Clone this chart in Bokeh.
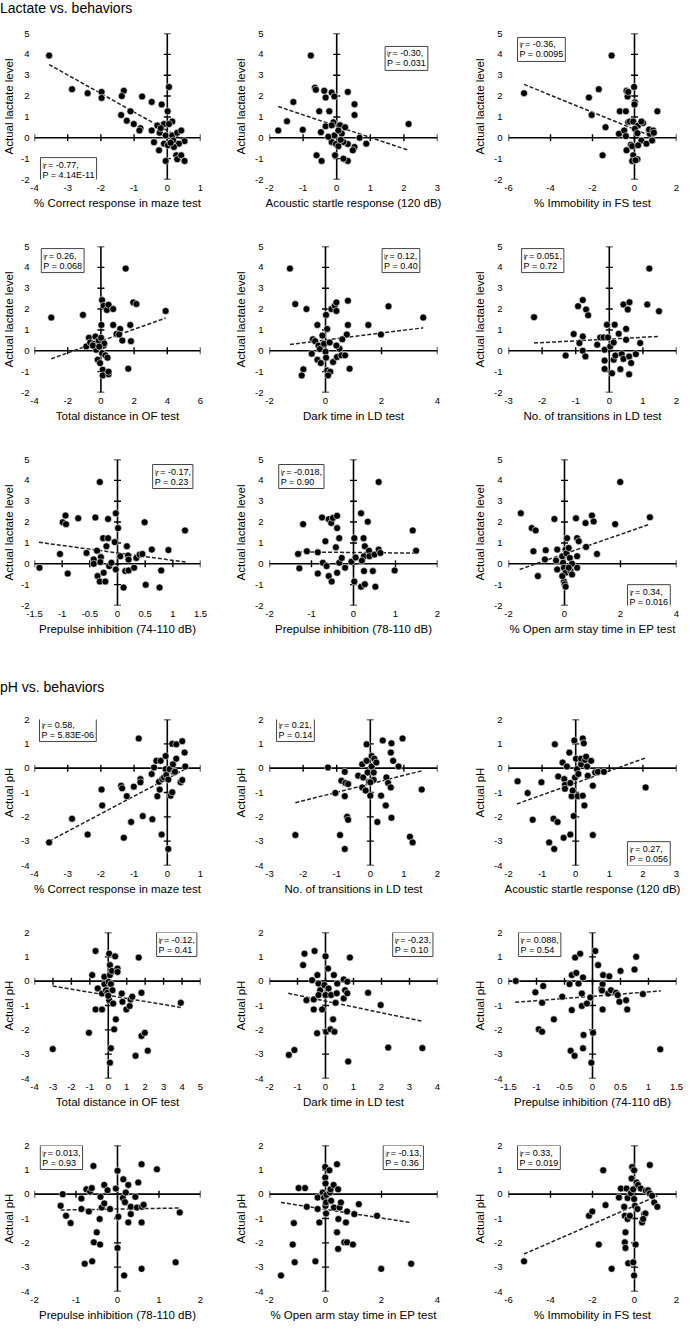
import math
from bokeh.plotting import figure
from bokeh.layouts import column, row
from bokeh.models import Range1d, FixedTicker, CustomJSTickFormatter, Label, Div
from bokeh.embed import file_html
from bokeh.resources import INLINE

FONT = "Liberation Sans"

# ---------------- data (x, y) pairs ----------------
lac_maze = [(-3.56, 3.94), (-2.87, 2.33), (-2.40, 2.14), (-1.98, 2.20), (-1.98, 1.91), (-1.31, 2.25),
            (-1.37, 2.00), (-0.76, 1.98), (-0.47, 1.72), (-0.17, 1.60), (0.05, 2.44), (0.01, 1.27),
            (-1.11, 1.27), (-1.39, 1.09), (-1.22, 0.82), (-1.01, 0.66), (-0.81, 0.46), (-0.84, 0.35),
            (-0.47, 0.35), (-0.30, 0.59), (-0.23, 0.24), (-0.10, 0.66), (0.15, 0.78), (-0.05, 0.11),
            (-0.40, -0.21), (-0.25, -0.60), (-0.10, -0.28), (0.02, -0.36), (0.15, 0.11), (0.18, -0.13),
            (0.30, 0.24), (0.42, 0.35), (0.52, -0.16), (0.35, -0.28), (0.20, -0.44), (0.27, -0.84),
            (0.30, -1.03), (0.42, -0.84), (0.52, -1.11), (-0.05, -1.11), (0.05, 0.66), (-0.20, 0.46),
            (0.10, -0.24)]
lac_asr = [(-0.77, 3.94), (-1.74, 0.35), (-1.48, 0.79), (-1.29, 1.72), (-1.01, 0.38), (-0.65, 2.40),
           (-0.62, 2.30), (-0.37, 2.25), (-0.15, 2.17), (-0.33, 1.93), (-0.07, 1.98), (-0.52, 1.27),
           (-0.22, 1.27), (-0.47, 0.27), (-0.33, 0.55), (-0.10, 0.74), (-0.15, 0.60), (-0.60, -0.84),
           (-0.45, -1.11), (-0.05, -0.84), (-0.07, 0.11), (-0.15, -0.20), (-0.02, -0.30), (0.33, 2.20),
           (0.53, 1.61), (0.53, 1.09), (0.68, 0.00), (0.88, -0.28), (2.14, 0.66), (0.53, -0.44),
           (0.48, -0.60), (0.33, -1.11), (0.33, -0.30), (0.10, 0.60), (0.20, -0.20), (0.25, 0.50),
           (0.05, -0.40), (0.15, 0.20), (0.20, -1.00), (0.05, 0.35), (-0.25, 0.05), (0.12, -0.10)]
lac_fs = [(-5.26, 2.14), (-2.17, 1.93), (-2.04, 1.09), (-1.70, 2.33), (-1.09, 3.94), (-1.38, 0.51),
          (-1.52, -0.84), (-0.74, 0.19), (-0.70, 1.27), (-0.49, 0.35), (-0.41, 1.27), (-0.38, 2.25),
          (-0.33, 1.98), (-0.30, 2.20), (-0.41, 0.08), (-0.30, 0.75), (-0.22, 0.78), (-0.02, 2.44),
          (0.02, 1.70), (0.00, 1.60), (-0.06, 0.78), (0.17, 0.59), (0.02, 0.43), (0.14, 0.22),
          (-0.17, -0.33), (-0.38, -0.60), (-0.11, -0.40), (-0.06, -0.84), (-0.11, -1.11), (0.14, -1.03),
          (0.05, -1.08), (0.33, -0.13), (0.57, -0.28), (0.41, 0.71), (0.33, 0.78), (0.68, 0.35),
          (0.73, 0.19), (0.70, 0.40), (0.89, 0.35), (0.92, 0.24), (0.84, -0.13), (1.09, 1.27),
          (0.17, -0.36)]
lac_of = [(-2.99, 1.59), (-1.08, 1.72), (-0.88, 0.21), (-0.72, 0.62), (-0.64, 0.40), (-0.33, 0.68),
          (-0.44, 0.33), (-0.25, 0.12), (-0.13, 0.49), (0.03, 1.24), (0.07, 2.43), (0.17, 2.16),
          (0.36, 1.96), (0.46, 2.21), (0.74, 2.00), (0.74, 1.24), (1.49, 3.94), (1.95, 2.32),
          (2.14, 2.24), (3.90, 1.91), (1.16, 1.05), (0.94, 0.81), (1.10, 0.78), (1.29, 0.49),
          (1.77, 1.24), (1.81, 0.46), (1.65, -0.86), (0.01, 0.62), (0.17, 0.25), (0.07, -0.11),
          (-0.19, -0.43), (-0.05, -0.59), (0.27, -0.22), (0.40, -0.33), (0.11, -0.91), (0.11, -1.18),
          (0.46, -1.13), (0.46, -1.00), (-0.29, 0.05), (-0.49, 0.25), (0.20, 0.35), (-0.10, 0.20)]
lac_dark = [(-1.27, 3.94), (-1.08, 2.24), (-0.68, 2.00), (-0.29, 1.24), (0.02, 1.72), (0.06, 1.05),
            (-0.79, -0.89), (-0.85, -1.18), (-0.49, -0.14), (-0.45, 0.55), (-0.37, 0.46), (-0.25, 0.25),
            (-0.29, -0.43), (-0.17, -0.59), (-0.20, 0.08), (-0.11, 0.73), (-0.05, 0.33), (0.00, -0.05),
            (0.02, -0.33), (0.06, -0.94), (0.17, -1.00), (0.09, -1.18), (0.27, -0.54), (0.21, 2.00),
            (0.33, 2.16), (0.39, 1.91), (0.39, 2.32), (0.50, 0.10), (0.39, 0.25), (0.41, -0.30),
            (0.57, -0.22), (0.76, 0.78), (0.80, 2.40), (0.80, 1.24), (1.53, 1.24), (1.98, 0.78),
            (2.25, 2.13), (3.49, 1.59), (0.86, -0.86), (0.70, -0.22), (0.15, 0.40), (0.60, 0.55)]
lac_trans = [(-2.24, 1.61), (-1.30, -0.23), (-1.06, 0.80), (-0.93, 2.14), (-0.79, 2.43), (-0.69, 1.98),
             (-0.63, 1.70), (-0.79, 0.69), (-0.89, 0.37), (-0.79, 0.00), (-0.71, -0.27), (-0.36, 0.29),
             (-0.27, 0.64), (-0.17, 0.64), (-0.14, 0.05), (-0.14, -0.47), (-0.14, -0.87), (-0.07, 1.25),
             (0.16, 1.25), (0.03, 0.21), (0.13, 0.40), (-0.04, 0.64), (0.08, -1.08), (0.13, -0.43),
             (0.18, -0.23), (0.28, 0.82), (0.37, -0.16), (0.42, -0.39), (0.33, -0.88), (0.42, 2.22),
             (0.55, 1.98), (0.60, 2.33), (0.50, 1.05), (0.50, 0.53), (0.59, -0.27), (0.65, -0.59),
             (0.59, -1.13), (0.79, -0.16), (0.92, 0.37), (1.13, 2.22), (1.19, 3.94), (1.48, 1.90)]
lac_ppi74 = [(-1.41, -0.19), (-1.04, 0.47), (-0.99, 1.99), (-0.94, 2.31), (-0.93, 1.90), (-0.90, -0.47),
             (-0.71, 2.18), (-0.56, 0.52), (-0.40, 2.22), (-0.43, 0.21), (-0.43, 0.00), (-0.37, 0.63),
             (-0.32, 3.92), (-0.36, -0.59), (-0.32, -0.85), (-0.30, 0.32), (-0.31, 0.08), (-0.26, 1.23),
             (-0.25, -0.43), (-0.22, -0.85), (-0.20, 0.84), (-0.17, 1.23), (-0.17, 2.15), (-0.15, -0.11),
             (-0.11, 0.05), (-0.05, 1.04), (-0.03, 2.42), (0.01, 1.71), (-0.03, -0.27), (0.05, 0.36),
             (0.11, -1.14), (0.14, -0.35), (0.17, 0.84), (0.19, 0.40), (0.20, -0.32), (0.20, 0.20),
             (0.30, -0.19), (0.34, 0.28), (0.40, 0.44), (0.45, 0.47), (0.49, 1.99), (0.51, -1.01),
             (0.62, 0.68), (0.79, -0.32), (0.76, -1.14), (0.92, 0.66), (1.22, 1.60)]
lac_ppi78 = [(-1.20, 1.90), (-1.32, 0.47), (-1.29, -0.22), (-1.11, 0.60), (-0.85, 0.55), (-0.75, 2.22),
             (-0.73, 0.05), (-0.85, -0.47), (-0.67, 1.08), (-0.64, -0.11), (-0.59, 2.14), (-0.53, 1.96),
             (-0.49, 2.20), (-0.39, 2.30), (-0.39, 1.71), (-0.34, 1.23), (-0.42, 0.79), (-0.59, -0.59),
             (-0.52, -0.85), (-0.39, -0.43), (-0.34, 0.05), (-0.28, 0.28), (-0.20, -0.19), (0.02, 1.23),
             (0.18, 2.42), (0.34, 2.02), (0.24, 1.23), (0.27, 0.84), (0.37, 0.63), (0.25, 0.36),
             (0.20, 0.15), (0.02, -0.85), (0.18, -1.10), (0.27, -0.98), (0.25, -0.35), (0.38, 0.36),
             (0.46, -0.35), (0.50, 0.44), (0.52, -1.10), (0.60, 0.68), (0.60, 3.92), (0.64, 0.52),
             (0.98, -0.32), (1.41, 1.60), (1.49, 0.63), (-0.05, 0.10), (0.05, 0.30)]
lac_ep = [(-1.56, 2.42), (-1.17, 1.71), (-1.03, 1.60), (-1.11, 0.60), (-0.95, -0.59), (-0.67, 0.65),
          (-0.70, 0.21), (-0.36, 2.15), (-0.26, 0.68), (-0.30, 0.16), (-0.26, -0.27), (-0.08, 0.36),
          (-0.05, 0.05), (-0.02, -0.19), (0.04, 0.68), (0.09, 1.23), (0.07, 0.50), (0.04, -0.43),
          (-0.02, -0.85), (0.01, -0.98), (0.04, -1.10), (0.15, 0.76), (0.19, 0.28), (0.27, 0.00),
          (0.21, -0.33), (0.27, -0.51), (0.45, -0.19), (0.45, 0.36), (0.41, 2.18), (0.45, 1.23),
          (0.51, 1.08), (0.75, 1.95), (0.77, 0.81), (0.98, 2.31), (1.04, 2.03), (1.16, 0.47),
          (1.81, 1.90), (1.99, 3.92), (3.05, 2.23), (-0.08, -0.59), (0.15, -0.19)]

ph_maze = [(-3.56, -3.05), (-2.87, -2.08), (-2.40, -2.73), (-1.98, -0.88), (-1.96, -1.53), (-1.39, -0.72),
           (-1.36, -0.83), (-1.31, -2.86), (-1.22, -1.15), (-1.09, -2.21), (-1.01, -0.76), (-0.86, 1.22),
           (-0.81, -0.45), (-0.81, -0.58), (-0.74, -1.97), (-0.47, -0.24), (-0.45, -2.10), (-0.40, 0.03),
           (-0.33, 0.30), (-0.30, -1.15), (-0.25, -0.56), (-0.23, -0.88), (-0.20, 0.30), (-0.17, -2.73),
           (-0.15, -0.45), (-0.10, -0.38), (-0.05, 0.50), (-0.05, -0.04), (-0.03, -0.28), (0.03, -3.32),
           (0.03, -0.47), (0.07, -0.04), (0.10, -1.13), (0.15, -0.99), (0.15, 1.00), (0.17, 0.16),
           (0.20, -0.18), (0.27, 0.98), (0.27, 0.39), (0.45, 1.11), (0.40, -0.58), (0.45, -0.49),
           (0.52, 0.64), (0.54, 0.07), (0.23, -0.15)]
ph_trans = [(-2.23, -2.75), (-1.26, 0.03), (-1.04, -1.02), (-0.86, -0.52), (-0.90, -2.75), (-0.76, -3.32),
            (-0.76, -0.15), (-0.74, -0.61), (-0.76, -1.15), (-0.69, -2.00), (-0.66, -2.12), (-0.66, -0.65),
            (-0.36, -0.31), (-0.24, -0.79), (-0.24, 0.16), (-0.21, -0.38), (-0.14, -0.92), (-0.11, 0.98),
            (-0.11, 0.30), (-0.08, -0.18), (-0.04, -0.56), (0.00, -1.13), (0.04, 0.50), (0.04, 0.07),
            (0.10, -0.48), (0.10, -0.18), (0.12, 0.39), (0.18, 0.23), (0.32, -1.13), (0.37, 1.14),
            (0.46, -1.53), (0.48, -0.38), (0.53, -0.61), (0.61, -0.79), (0.63, 1.02), (0.61, 0.64),
            (0.68, 0.30), (0.63, -2.04), (0.84, 0.07), (0.96, 1.22), (0.21, -2.21), (1.18, -2.82),
            (1.26, -3.05), (1.53, -0.88), (0.00, -0.58)]
ph_asr = [(-1.73, -0.54), (-1.43, -1.02), (-1.28, -2.12), (-1.02, -0.58), (-0.62, 0.98), (-0.66, -2.08),
          (-0.54, -2.21), (-0.52, -0.34), (-0.79, -3.05), (-0.64, -3.32), (-0.39, 0.23), (-0.36, -2.86),
          (-0.34, -0.45), (-0.32, -0.69), (-0.32, -0.85), (-0.26, 0.07), (-0.19, 0.64), (-0.16, -0.61),
          (-0.16, -2.73), (-0.12, -1.15), (-0.09, -0.92), (-0.06, -1.97), (-0.04, 1.14), (-0.02, -0.38),
          (0.01, 0.39), (0.04, -0.04), (0.06, -1.15), (0.08, -0.24), (0.16, 0.16), (0.16, 0.39),
          (0.21, 1.22), (0.21, -1.13), (0.24, 1.02), (0.26, -1.53), (0.28, 0.34), (0.31, 0.47),
          (0.34, 0.07), (0.36, -0.31), (0.46, 0.30), (0.51, -0.72), (0.51, -2.75), (0.58, -0.18),
          (0.66, -0.15), (0.84, -0.15), (2.08, -0.79)]
ph_of = [(-3.01, -2.79), (-1.05, -2.12), (-0.87, 0.25), (-0.69, 1.24), (-0.69, -1.16), (-0.34, -1.16),
         (-0.57, -0.30), (-0.34, -0.51), (-0.21, 0.18), (-0.21, -0.12), (-0.12, -0.37), (-0.04, -0.48),
         (0.02, -0.03), (0.05, 1.13), (0.09, 0.66), (0.05, -0.78), (0.09, 0.25), (0.20, 0.42),
         (0.14, -0.12), (0.23, -0.37), (0.14, -2.76), (0.09, -3.35), (0.27, -0.92), (0.32, -1.98),
         (0.37, 1.02), (0.41, -1.57), (0.50, 0.52), (0.50, 0.38), (0.73, -0.51), (0.77, -0.85),
         (0.98, -1.16), (1.16, -1.02), (1.21, -0.75), (1.30, -0.64), (1.65, 0.97), (1.80, -0.48),
         (1.48, -3.07), (1.80, -2.25), (1.98, -2.12), (2.14, -2.86), (3.93, -0.89), (0.00, -0.60)]
ph_dark = [(-1.31, -3.03), (-1.11, -2.83), (-0.80, 0.66), (-0.75, 1.13), (-0.68, -0.78), (-0.48, 0.04),
           (-0.42, -0.75), (-0.39, 1.24), (-0.42, -1.16), (-0.30, -2.14), (-0.29, 0.25), (-0.25, -0.10),
           (-0.19, -0.37), (-0.25, -0.57), (-0.12, -1.16), (0.00, 1.02), (-0.04, -0.16), (0.02, -2.08),
           (0.00, -0.57), (0.09, 0.52), (0.11, -0.30), (0.18, -1.98), (0.20, -0.57), (0.30, 0.25),
           (0.27, -1.57), (0.32, -2.08), (0.36, -0.89), (0.40, -0.50), (0.42, -0.10), (0.65, 0.07),
           (0.70, -0.37), (0.65, -0.71), (0.87, 0.97), (0.78, -0.02), (0.78, -0.50), (1.52, -0.48),
           (1.97, -0.98), (2.24, -2.73), (3.46, -2.75), (0.81, -3.30)]
ph_ppi74 = [(-1.37, 0.01), (-1.02, -0.46), (-0.88, -0.20), (-0.90, -0.89), (-0.96, -1.98), (-0.90, -2.08),
            (-0.69, -1.57), (-0.54, -0.64), (-0.41, -0.12), (-0.37, 0.25), (-0.37, -1.19), (-0.39, -2.86),
            (-0.32, -3.07), (-0.31, 0.97), (-0.29, 0.34), (-0.25, -0.10), (-0.22, 1.13), (-0.19, -0.51),
            (-0.17, 0.15), (-0.19, -1.02), (-0.16, -2.21), (-0.17, -2.76), (-0.10, -0.92), (-0.04, -0.67),
            (-0.02, -3.35), (0.01, -2.12), (0.05, 1.24), (0.10, 0.66), (0.16, -0.30), (0.18, -0.12),
            (0.19, 0.25), (0.18, -1.16), (0.30, 0.20), (0.28, -0.51), (0.33, -0.37), (0.42, -0.48),
            (0.45, -0.57), (0.50, 0.42), (0.48, -0.85), (0.60, -0.78), (0.62, -1.16), (0.75, 0.48),
            (0.78, 1.00), (0.90, -0.53), (1.21, -2.80), (0.17, -0.38)]
ph_ppi78 = [(-1.37, -0.48), (-1.32, 0.00), (-1.24, -0.89), (-1.13, -1.19), (-0.87, -0.18), (-0.87, -0.61),
            (-0.79, -2.86), (-0.75, 0.20), (-0.69, -0.71), (-0.66, 0.10), (-0.62, 0.25), (-0.58, 1.16),
            (-0.61, -2.76), (-0.57, -1.98), (-0.50, -1.57), (-0.43, -1.02), (-0.42, -2.07), (-0.41, -0.11),
            (-0.38, -0.55), (-0.32, -0.38), (-0.32, 0.38), (-0.24, 0.16), (-0.18, -0.61), (-0.04, 0.23),
            (0.00, 0.96), (0.00, -2.21), (0.02, -0.93), (0.14, 0.61), (0.13, -0.16), (0.16, -3.34),
            (0.18, -0.33), (0.20, 0.07), (0.26, 0.38), (0.26, -1.16), (0.32, -0.82), (0.32, -0.52),
            (0.43, -0.11), (0.47, -0.55), (0.50, 0.48), (0.58, -1.16), (0.58, -3.07), (0.58, 1.23),
            (0.59, -0.52), (0.63, -0.44), (0.95, 1.02), (1.40, -2.80), (1.50, -0.75)]
ph_ep = [(-1.59, -3.34), (-1.17, -2.07), (-1.13, -1.19), (-1.10, -2.80), (-0.96, 0.25), (-0.73, 0.25),
         (-0.67, -0.52), (-0.36, -2.76), (-0.28, -0.14), (-0.28, -0.61), (-0.22, -1.16), (-0.10, 0.07),
         (-0.05, -0.14), (-0.01, 1.12), (-0.01, 0.68), (0.00, 0.44), (0.00, -0.48), (0.02, -0.79),
         (0.02, -0.34), (0.03, -0.03), (0.14, 0.98), (0.16, 0.07), (0.20, -0.27), (0.18, 0.20),
         (0.29, 0.38), (0.30, -0.55), (0.41, 1.23), (0.45, 0.20), (0.46, -1.02), (0.41, -1.57),
         (0.45, -2.25), (0.50, -0.55), (0.67, -1.98), (0.73, -1.16), (0.55, -0.34), (0.77, -0.71),
         (0.77, -1.98), (0.98, -2.07), (1.03, -0.82), (1.19, -0.41), (1.84, -0.89), (1.99, -3.07),
         (3.06, -2.86)]
ph_fs = [(-5.26, -2.76), (-1.70, -2.07), (-2.17, -0.89), (-2.01, -0.71), (-1.49, 0.98), (-1.38, -0.45),
         (-1.09, -3.07), (-0.74, -0.14), (-0.65, 0.23), (-0.49, -0.52), (-0.46, -0.89), (-0.38, 0.23),
         (-0.33, -0.16), (-0.43, -1.57), (-0.46, -1.98), (-0.43, -2.21), (-0.33, -1.02), (-0.30, -2.84),
         (-0.22, -0.89), (-0.17, 0.04), (-0.11, 1.12), (-0.06, -2.80), (-0.02, 0.98), (-0.02, -0.20),
         (-0.06, 0.20), (0.02, -0.48), (-0.02, -3.34), (0.05, -2.07), (-0.14, 0.64), (0.10, 0.48),
         (0.17, 0.38), (0.14, -0.61), (0.30, 0.23), (0.36, -1.16), (0.46, -0.82), (0.54, 0.14),
         (0.65, 0.16), (0.73, 1.20), (0.73, 0.03), (0.84, -0.07), (0.94, -0.34), (1.09, -0.52),
         (0.52, -0.79), (0.41, -1.02)]

# regression line end points (x0, y0, x1, y1)
fits = {
    "lac_maze": (-3.56, 3.51, 0.52, -0.12), "lac_asr": (-1.74, 1.50, 2.14, -0.60),
    "lac_fs": (-5.26, 2.56, 1.09, -0.04), "lac_of": (-2.99, -0.38, 3.90, 1.57),
    "lac_dark": (-1.27, 0.30, 3.49, 1.10), "lac_trans": (-2.24, 0.37, 1.48, 0.69),
    "lac_ppi74": (-1.42, 1.03, 1.24, 0.08), "lac_ppi78": (-1.32, 0.57, 1.49, 0.51),
    "lac_ep": (-1.60, -0.27, 3.05, 1.90),
    "ph_maze": (-3.56, -3.00, 0.54, -0.04), "ph_trans": (-2.23, -1.42, 1.53, -0.11),
    "ph_asr": (-1.75, -1.47, 2.10, 0.43), "ph_of": (-3.01, -0.20, 3.93, -1.08),
    "ph_dark": (-1.33, -0.50, 3.43, -1.64), "ph_ppi74": (-1.38, -0.87, 1.22, -0.40),
    "ph_ppi78": (-1.37, -0.65, 1.50, -0.57), "ph_ep": (-1.59, -0.34, 3.06, -1.17),
    "ph_fs": (-5.26, -2.46, 1.09, -0.07),
}
stats = {
    "lac_maze": ("-0.77", "4.14E-11"), "lac_asr": ("-0.30", "0.031"), "lac_fs": ("-0.36", "0.0095"),
    "lac_of": ("0.26", "0.068"), "lac_dark": ("0.12", "0.40"), "lac_trans": ("0.051", "0.72"),
    "lac_ppi74": ("-0.17", "0.23"), "lac_ppi78": ("-0.018", "0.90"), "lac_ep": ("0.34", "0.016"),
    "ph_maze": ("0.58", "5.83E-06"), "ph_trans": ("0.21", "0.14"), "ph_asr": ("0.27", "0.056"),
    "ph_of": ("-0.12", "0.41"), "ph_dark": ("-0.23", "0.10"), "ph_ppi74": ("0.088", "0.54"),
    "ph_ppi78": ("0.013", "0.93"), "ph_ep": ("-0.13", "0.36"), "ph_fs": ("0.33", "0.019"),
}
xlabels = {
    "maze": "% Correct response in maze test", "asr": "Acoustic startle response (120 dB)",
    "fs": "% Immobility in FS test", "of": "Total distance in OF test", "dark": "Dark time in LD test",
    "trans": "No. of transitions in LD test", "ppi74": "Prepulse inhibition (74-110 dB)",
    "ppi78": "Prepulse inhibition (78-110 dB)", "ep": "% Open arm stay time in EP test",
}
xranges = {"maze": (-4, 1, 1), "asr": (-2, 3, 1), "fs": (-6, 2, 2), "of": (-4, 6, 2),
           "dark": (-2, 4, 2), "trans": (-3, 2, 1), "ppi74": (-1.5, 1.5, 0.5),
           "ppi78": (-2, 2, 1), "ep": (-2, 4, 2)}
xranges_ph = {"of": (-4, 5, 1), "dark": (-2, 4, 1)}
# top-left corner of the statistics box (data units)
boxes = {
    "lac_maze": (-3.82, -0.95), "lac_asr": (1.44, 4.38), "lac_fs": (-5.57, 4.81),
    "lac_of": (-3.59, 4.90), "lac_dark": (2.02, 4.90), "lac_trans": (-2.61, 4.90),
    "lac_ppi74": (0.635, 4.76), "lac_ppi78": (-1.78, 4.76), "lac_ep": (2.25, -1.00),
    "ph_maze": (-3.85, 2.08), "ph_trans": (-2.79, 2.08), "ph_asr": (1.54, -3.02),
    "ph_of": (2.62, 2.0), "ph_dark": (2.40, 2.0), "ph_ppi74": (-1.32, 2.0),
    "ph_ppi78": (-1.86, 2.0), "ph_ep": (2.06, 2.0), "ph_fs": (-5.57, 2.0),
}
points = {
    "lac_maze": lac_maze, "lac_asr": lac_asr, "lac_fs": lac_fs, "lac_of": lac_of, "lac_dark": lac_dark,
    "lac_trans": lac_trans, "lac_ppi74": lac_ppi74, "lac_ppi78": lac_ppi78, "lac_ep": lac_ep,
    "ph_maze": ph_maze, "ph_trans": ph_trans, "ph_asr": ph_asr, "ph_of": ph_of, "ph_dark": ph_dark,
    "ph_ppi74": ph_ppi74, "ph_ppi78": ph_ppi78, "ph_ep": ph_ep, "ph_fs": ph_fs,
}
lac_layout = [["maze", "asr", "fs"], ["of", "dark", "trans"], ["ppi74", "ppi78", "ep"]]
ph_layout = [["maze", "trans", "asr"], ["of", "dark", "ppi74"], ["ppi78", "ep", "fs"]]
yinfo = {"lac": (-2, 5, "Actual lactate level"), "ph": (-4, 2, "Actual pH")}

# ---------------- geometry ----------------
COL_BL = [30, 34, 34]
COL_FW = [166, 168, 168]
COL_BR = [32, 34, 8]
FH = 146
BT = 15
BB = 52
BB_LAST = 36


def ticks(lo, hi, step):
    n = int(round((hi - lo) / step))
    return [round(lo + i * step, 6) for i in range(n + 1)]


def panel(key, var, col, last):
    grp = key.split("_")[0]
    y0, y1, ylabel = yinfo[grp]
    if grp == "ph" and var in xranges_ph:
        x0, x1, xstep = xranges_ph[var]
    else:
        x0, x1, xstep = xranges[var]
    p = figure(frame_width=COL_FW[col], frame_height=FH,
               x_range=Range1d(x0, x1), y_range=Range1d(y0, y1),
               min_border_left=COL_BL[col], min_border_right=COL_BR[col],
               min_border_top=BT, min_border_bottom=BB_LAST if last else BB,
               output_backend="svg", toolbar_location=None)
    p.outline_line_color = None
    p.grid.visible = False
    xt = ticks(x0, x1, xstep)
    yt = ticks(y0, y1, 1)
    fmt = CustomJSTickFormatter(code="return String(Math.round(tick*100)/100);")
    for ax, t in ((p.xaxis[0], xt), (p.yaxis[0], yt)):
        ax.ticker = FixedTicker(ticks=t)
        ax.formatter = fmt
        ax.axis_line_color = None
        ax.major_tick_line_color = None
        ax.minor_tick_line_color = None
        ax.major_tick_out = 0
        ax.major_tick_in = 0
        ax.major_label_text_font = FONT
        ax.major_label_text_font_size = "9.5px"
        ax.major_label_text_color = "black"
        ax.axis_label_text_font = FONT
        ax.axis_label_text_font_style = "normal"
        ax.axis_label_text_color = "black"
    p.xaxis.axis_label = xlabels[var]
    p.yaxis.axis_label = ylabel
    p.xaxis.axis_label_text_font_size = "11.5px"
    p.yaxis.axis_label_text_font_size = "11.5px"
    p.xaxis.major_label_standoff = 5
    p.xaxis.axis_label_standoff = 3
    p.yaxis.major_label_standoff = 5 if col == 0 else 6
    p.yaxis.axis_label_standoff = 3 if col == 0 else 5

    # crossing axes through the origin
    p.line([x0, x1], [0, 0], line_color="black", line_width=1.6)
    p.line([0, 0], [y0, y1], line_color="black", line_width=1.6)
    p.scatter(xt, [0] * len(xt), marker="dash", angle=math.pi / 2, size=7,
              line_color="black", line_width=1.4)
    p.scatter([0] * len(yt), yt, marker="dash", size=7, line_color="black", line_width=1.4)

    fx0, fy0, fx1, fy1 = fits[key]
    p.line([fx0, fx1], [fy0, fy1], line_color="#222222", line_width=1.5, line_dash="4 2")

    pts = points[key]
    p.scatter([a for a, b in pts], [b for a, b in pts], size=7, fill_color="black",
              line_color="white", line_width=0.6)

    r, pv = stats[key]
    bx, by = boxes[key]
    p.add_layout(Label(x=bx, y=by, text=f"r = {r},\nP = {pv}", anchor="top_left",
                       text_font=FONT, text_font_size="9px", text_line_height=1.0,
                       text_color="black", border_line_color="#444444", border_line_width=1,
                       background_fill_color="white", padding=2))
    p.add_layout(Label(x=bx, y=by, text="r", anchor="top_left", x_offset=3, y_offset=-3,
                       text_font=FONT, text_font_size="9px", text_font_style="italic",
                       text_color="black", background_fill_color="white", padding=0))
    return p


title_style = {"font-family": FONT, "font-size": "14px", "color": "black", "line-height": "16px"}
t1 = Div(text="Lactate vs. behaviors", width=676, height=18, styles=title_style, margin=(0, 0, 0, 0))
t2 = Div(text='<div style="padding-top:22px">pH vs. behaviors</div>', width=676, height=47,
         styles=title_style, margin=(0, 0, 0, 0))

rows = [t1]
for ri, names in enumerate(lac_layout):
    rows.append(row([panel("lac_" + v, v, ci, False) for ci, v in enumerate(names)]))
rows.append(t2)
for ri, names in enumerate(ph_layout):
    rows.append(row([panel("ph_" + v, v, ci, ri == 2) for ci, v in enumerate(names)]))

layout = column(rows)
open("out.html", "w").write(file_html(layout, INLINE))
